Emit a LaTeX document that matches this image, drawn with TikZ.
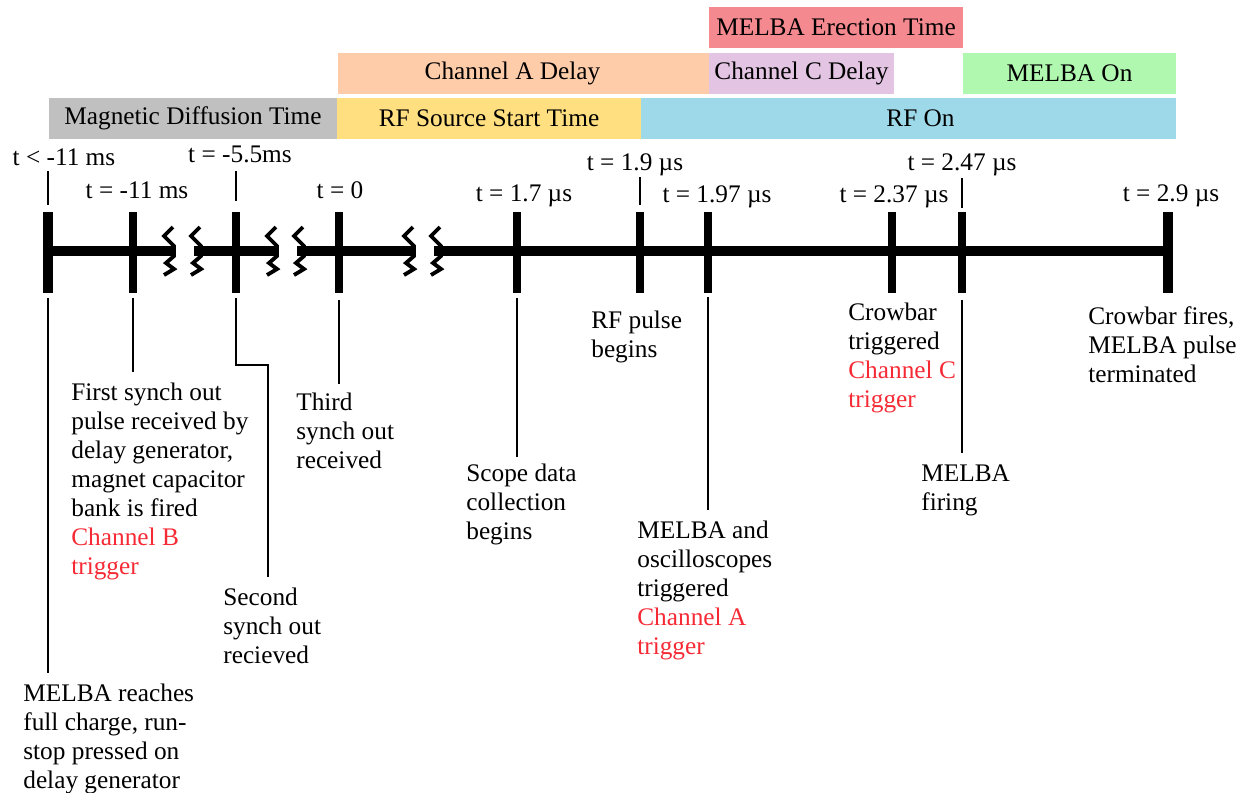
\documentclass[tikz,border=0pt]{standalone}
\usepackage{fontspec}
\setmainfont{Liberation Serif}[Ligatures=TeX]
\usetikzlibrary{positioning, calc}
\usepackage{xcolor}
\definecolor{DiffGray}{HTML}{C0C0C0}
\definecolor{StartYellow}{HTML}{FFDF80}
\definecolor{OnBlue}{HTML}{9DD9E9}
\definecolor{DelayPeach}{HTML}{FFCCAA}
\definecolor{DelayLilac}{HTML}{E3C5E3}
\definecolor{ErectRose}{HTML}{F4898F}
\definecolor{OnGreen}{HTML}{B0F7B0}
\definecolor{TrigRed}{HTML}{F52A35}

\begin{document}
\begin{tikzpicture}[x=0.02cm, y=-0.02cm,
  font=\rmfamily\fontsize{14.4}{16.5}\selectfont,
  band/.style={minimum height=0.82cm, inner sep=0pt},
  tlabel/.style={anchor=base, inner sep=0pt},
  event/.style={anchor=north west, align=left, inner sep=0pt},
  lead/.style={line width=0.9pt},
  axis/.style={line width=6.2pt},
  tick/.style={line width=4.4pt},
  endtick/.style={line width=6pt},
  brk/.style={line width=2.2pt, line join=miter}
]
  \useasboundingbox (0,0) rectangle (1245,792);

  % Phase bars
  \node[band, fill=DiffGray, minimum width=5.76cm] (diff) at (193,118.5) {Magnetic Diffusion Time};
  \node[band, fill=StartYellow, minimum width=6.08cm] (rfstart) at (489,118.5) {RF Source Start Time};
  \node[band, fill=OnBlue, minimum width=10.7cm, label={[xshift=0.24cm]center:RF On}] (rfon) at (908.5,118.5) {};
  \node[band, fill=DelayPeach, minimum width=7.42cm, label={[xshift=-0.22cm]center:Channel A Delay}] (chA) at (523.5,73) {};
  \node[band, fill=DelayLilac, minimum width=3.7cm] (chC) at (801.5,73) {Channel C Delay};
  \node[band, fill=OnGreen, minimum width=4.26cm] (melbaon) at (1069.5,73) {MELBA On};
  \node[band, fill=ErectRose, minimum width=5.08cm] (erect) at (836,27.5) {MELBA Erection Time};

  % Time axis
  \foreach \n/\x in {t0/48, t1/133, t2/236, t3/339, t4/517, t5/640, t6/708, t7/892, t8/962, t9/1168}
    \coordinate (\n) at (\x,251);
  \draw[axis] (t0) -- (174,251);
  \draw[axis] (194,251) -- (277,251);
  \draw[axis] (297,251) -- (414,251);
  \draw[axis] (434,251) -- (t9);
  \foreach \bx in {169,196,272,299,409,436}
    \draw[brk, shift={(\bx,251)}] (4,-24) -- (-5,-15) -- (5,-5) -- (5,5) -- (-3,12) -- (5,18) -- (-5,24);
  \foreach \n in {t0,t9}
    \draw[endtick] ($(\n)+(0,-39)$) -- ($(\n)+(0,42)$);
  \foreach \n in {t1,t2,t3,t4,t5,t6,t7,t8}
    \draw[tick] ($(\n)+(0,-39)$) -- ($(\n)+(0,42)$);

  % Tick times
  \node[tlabel] (l0) at (64,165) {t < -11 ms};
  \node[tlabel] (l1) at (137,198) {t = -11 ms};
  \node[tlabel] (l2) at (240,162) {t = -5.5ms};
  \node[tlabel] (l3) at (340,198) {t = 0};
  \node[tlabel] (l4) at (524,201) {t = 1.7 µs};
  \node[tlabel] (l5) at (635,170) {t = 1.9 µs};
  \node[tlabel] (l6) at (717,202) {t = 1.97 µs};
  \node[tlabel] (l7) at (894,202) {t = 2.37 µs};
  \node[tlabel] (l8) at (962,170) {t = 2.47 µs};
  \node[tlabel] (l9) at (1171,201) {t = 2.9 µs};
  \draw[lead] ($(t0)+(0,-80)$) -- ($(t0)+(0,-46)$);
  \draw[lead] ($(t2)+(0,-80)$) -- ($(t2)+(0,-50)$);
  \draw[lead] ($(t5)+(0,-74)$) -- ($(t5)+(0,-46)$);
  \draw[lead] ($(t8)+(0,-73)$) -- ($(t8)+(0,-43)$);

  % Events
  \node[event] (charge) at (23,684) {MELBA reaches\\full charge, run-\\stop pressed on\\delay generator};
  \node[event] (first) at (71,383) {First synch out\\pulse received by\\delay generator,\\magnet capacitor\\bank is fired\\\textcolor{TrigRed}{Channel B}\\\textcolor{TrigRed}{trigger}};
  \node[event] (second) at (223,588) {Second\\synch out\\recieved};
  \node[event] (third) at (296,393) {Third\\synch out\\received};
  \node[event] (scope) at (466,464) {Scope data\\collection\\begins};
  \node[event] (rfpulse) at (591,311) {RF pulse\\begins};
  \node[event] (melbatrig) at (637,521) {MELBA and\\oscilloscopes\\triggered\\\textcolor{TrigRed}{Channel A}\\\textcolor{TrigRed}{trigger}};
  \node[event] (crowtrig) at (848,303) {Crowbar\\triggered\\\textcolor{TrigRed}{Channel C}\\\textcolor{TrigRed}{trigger}};
  \node[event] (firing) at (921,464) {MELBA\\firing};
  \node[event] (crowfire) at (1088,306) {Crowbar fires,\\MELBA pulse\\terminated};

  \coordinate (jog) at (268,365);
  \draw[lead] ($(t0)+(0,47)$) -- ([yshift=6pt]charge.north -| t0);
  \draw[lead] ($(t1)+(0,47)$) -- ([yshift=6pt]first.north -| t1);
  \draw[lead] ($(t2)+(0,47)$) |- (jog) -- ([yshift=6pt]second.north -| jog);
  \draw[lead] ($(t3)+(0,49)$) -- ([yshift=5pt]third.north -| t3);
  \draw[lead] ($(t4)+(0,47)$) -- ([yshift=4pt]scope.north -| t4);
  \draw[lead] ($(t6)+(0,46)$) -- ([yshift=6pt]melbatrig.north -| t6);
  \draw[lead] ($(t8)+(0,49)$) -- ([yshift=6pt]firing.north -| t8);
\end{tikzpicture}
\end{document}
